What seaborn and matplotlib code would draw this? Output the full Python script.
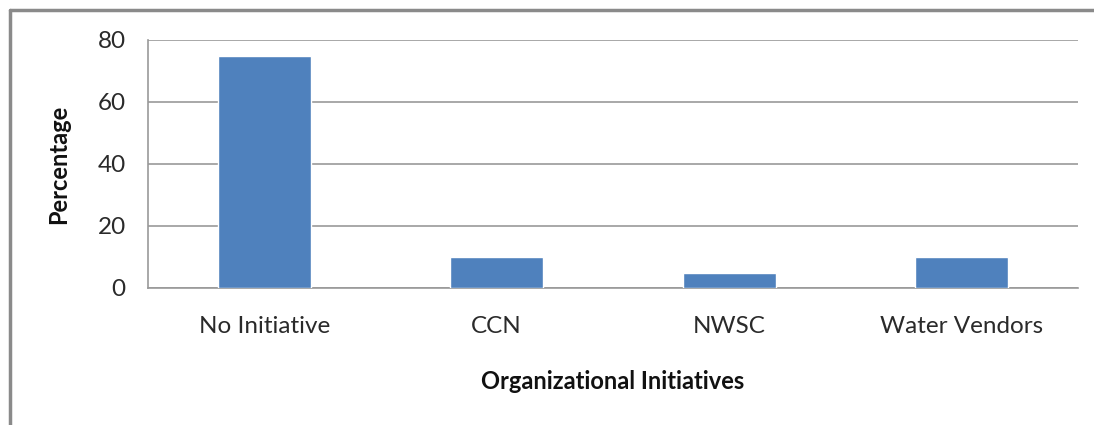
import matplotlib
matplotlib.use("Agg")
import matplotlib.pyplot as plt
from matplotlib.lines import Line2D
import seaborn as sns
import pandas as pd

categories = ["No Initiative", "CCN", "NWSC", "Water Vendors"]
values = [75, 10, 5, 10]
y_ticks = [0, 20, 40, 60, 80]

sns.set_style("white")
plt.rcParams['font.family'] = ['Lato', 'DejaVu Sans']

df = pd.DataFrame({"Organizational Initiatives": categories, "Percentage": values})

fig = plt.figure(figsize=(10.94, 4.25), dpi=100)
ax = fig.add_axes([148/1094, 1-288/425, (1078-148)/1094, (288-40)/425])

sns.barplot(data=df, x="Organizational Initiatives", y="Percentage", color="#4F81BD",
            width=0.4, saturation=1, ax=ax, zorder=3)

ax.set_xlim(-0.5, 3.5)
ax.set_ylim(0, 80)
ax.set_yticks(y_ticks)
ax.yaxis.grid(True, color="#999999", linewidth=1.2, zorder=0)
ax.set_axisbelow(True)
for s in ["top", "right"]:
    ax.spines[s].set_visible(False)
for s in ["left", "bottom"]:
    ax.spines[s].set_color("#999999")
    ax.spines[s].set_linewidth(1.2)

ax.tick_params(axis="y", length=8, color="#999999", width=1.2, labelsize=17.5, pad=8, labelcolor="#2a2a2a")
ax.tick_params(axis="x", which="major", length=0, labelsize=17.5, pad=20, labelcolor="#2a2a2a")
ax.set_xticks([-0.5, 0.5, 1.5, 2.5, 3.5], minor=True)
ax.tick_params(axis="x", which="minor", length=8, color="#999999", width=1.2)

ax.set_xlabel("Organizational Initiatives", fontsize=17, fontweight="bold", labelpad=24, color="#111111")
ax.set_ylabel("Percentage", fontsize=17, fontweight="bold", labelpad=20, color="#111111")

# outer frame (left and top edges visible)
fig.add_artist(Line2D([9.5/1094, 9.5/1094], [0, 1-9.5/425], transform=fig.transFigure,
                      color="#8a8a8a", linewidth=2.5))
fig.add_artist(Line2D([9.5/1094, 1], [1-9.5/425, 1-9.5/425], transform=fig.transFigure,
                      color="#8a8a8a", linewidth=2.5))

fig.savefig("out.png", dpi=100, facecolor="white")
